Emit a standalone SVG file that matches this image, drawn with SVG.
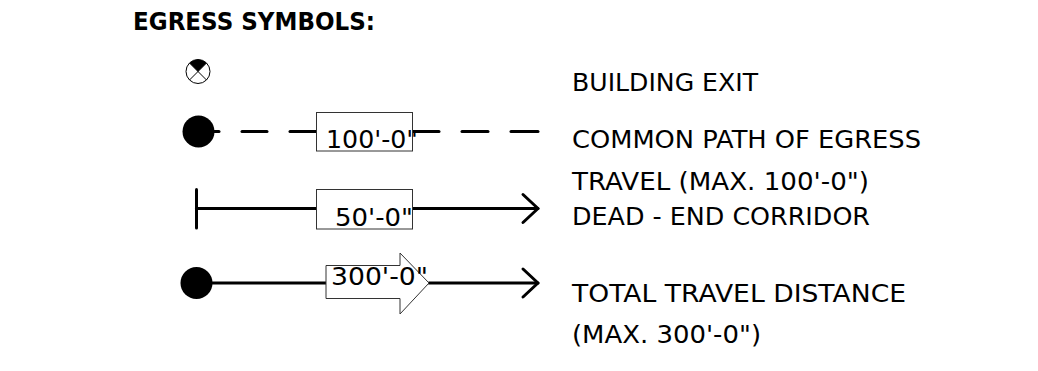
<svg xmlns="http://www.w3.org/2000/svg" width="1038" height="371" viewBox="0 0 1038 371">
<style>
text{font-family:"DejaVu Sans","Noto Sans",sans-serif;fill:#000;font-size:24.500px}
.ln{stroke:#000;stroke-width:3;fill:none;stroke-linecap:round;stroke-linejoin:round}
.box{fill:#fff;stroke:#333;stroke-width:1}
</style>
<rect width="1038" height="371" fill="#fff"/>
<g id="connectors">
<line class="ln" x1="214" y1="131.500" x2="219" y2="131.500"/>
<line class="ln" x1="242" y1="131.500" x2="267" y2="131.500"/>
<line class="ln" x1="290" y1="131.500" x2="316" y2="131.500"/>
<line class="ln" x1="413" y1="131.500" x2="439" y2="131.500"/>
<line class="ln" x1="462" y1="131.500" x2="488" y2="131.500"/>
<line class="ln" x1="511" y1="131.500" x2="538" y2="131.500"/>
<line class="ln" x1="196.500" y1="208.500" x2="316" y2="208.500"/>
<line class="ln" x1="413" y1="208.500" x2="538" y2="208.500"/>
<path class="ln" d="M523 194.500L538 208.500L523 222.500"/>
<line class="ln" x1="196.500" y1="189.500" x2="196.500" y2="228"/>
<line class="ln" x1="212" y1="283" x2="326" y2="283"/>
<line class="ln" x1="429" y1="283" x2="538" y2="283"/>
<path class="ln" d="M523 269L538 283L523 297"/>
</g>
<g id="title"><text x="133" y="30" style="font-weight:700" textLength="242" lengthAdjust="spacingAndGlyphs">EGRESS SYMBOLS:</text></g>
<g id="exit-symbol">
<circle cx="198" cy="71.500" r="12" fill="#fff" stroke="#000" stroke-width="1"/>
<path d="M198 71.500L189.500 63A12 12 0 0 1 206.500 63Z" fill="#000"/>
<path d="M189.500 63L206.500 80M206.500 63L189.500 80" stroke="#000" stroke-width="1" fill="none"/>
</g>
<g id="common-path-symbol">
<circle cx="198.500" cy="131.500" r="16" fill="#000"/>
<rect class="box" x="316.500" y="112.500" width="96" height="38.500"/>
<text x="326" y="148" textLength="92" lengthAdjust="spacingAndGlyphs">100'-0"</text>
</g>
<g id="dead-end-symbol">
<rect class="box" x="316.500" y="189.500" width="96" height="39.500"/>
<text x="335" y="226" textLength="78" lengthAdjust="spacingAndGlyphs">50'-0"</text>
</g>
<g id="travel-symbol">
<circle cx="196.500" cy="283" r="16" fill="#000"/>
<path class="box" d="M326 265.500H400V253L429 283L400 314V298.500H326Z"/>
<text x="331" y="285" textLength="97" lengthAdjust="spacingAndGlyphs">300'-0"</text>
</g>
<g id="labels">
<text x="572" y="90.500" textLength="186" lengthAdjust="spacingAndGlyphs">BUILDING EXIT</text>
<text x="572" y="147.500" textLength="349" lengthAdjust="spacingAndGlyphs">COMMON PATH OF EGRESS</text>
<text x="572" y="189.500" textLength="297" lengthAdjust="spacingAndGlyphs">TRAVEL (MAX. 100'-0")</text>
<text x="572" y="224.500" textLength="298" lengthAdjust="spacingAndGlyphs">DEAD - END CORRIDOR</text>
<text x="572" y="301.500" textLength="334" lengthAdjust="spacingAndGlyphs">TOTAL TRAVEL DISTANCE</text>
<text x="572" y="343" textLength="189" lengthAdjust="spacingAndGlyphs">(MAX. 300'-0")</text>
</g>
</svg>
